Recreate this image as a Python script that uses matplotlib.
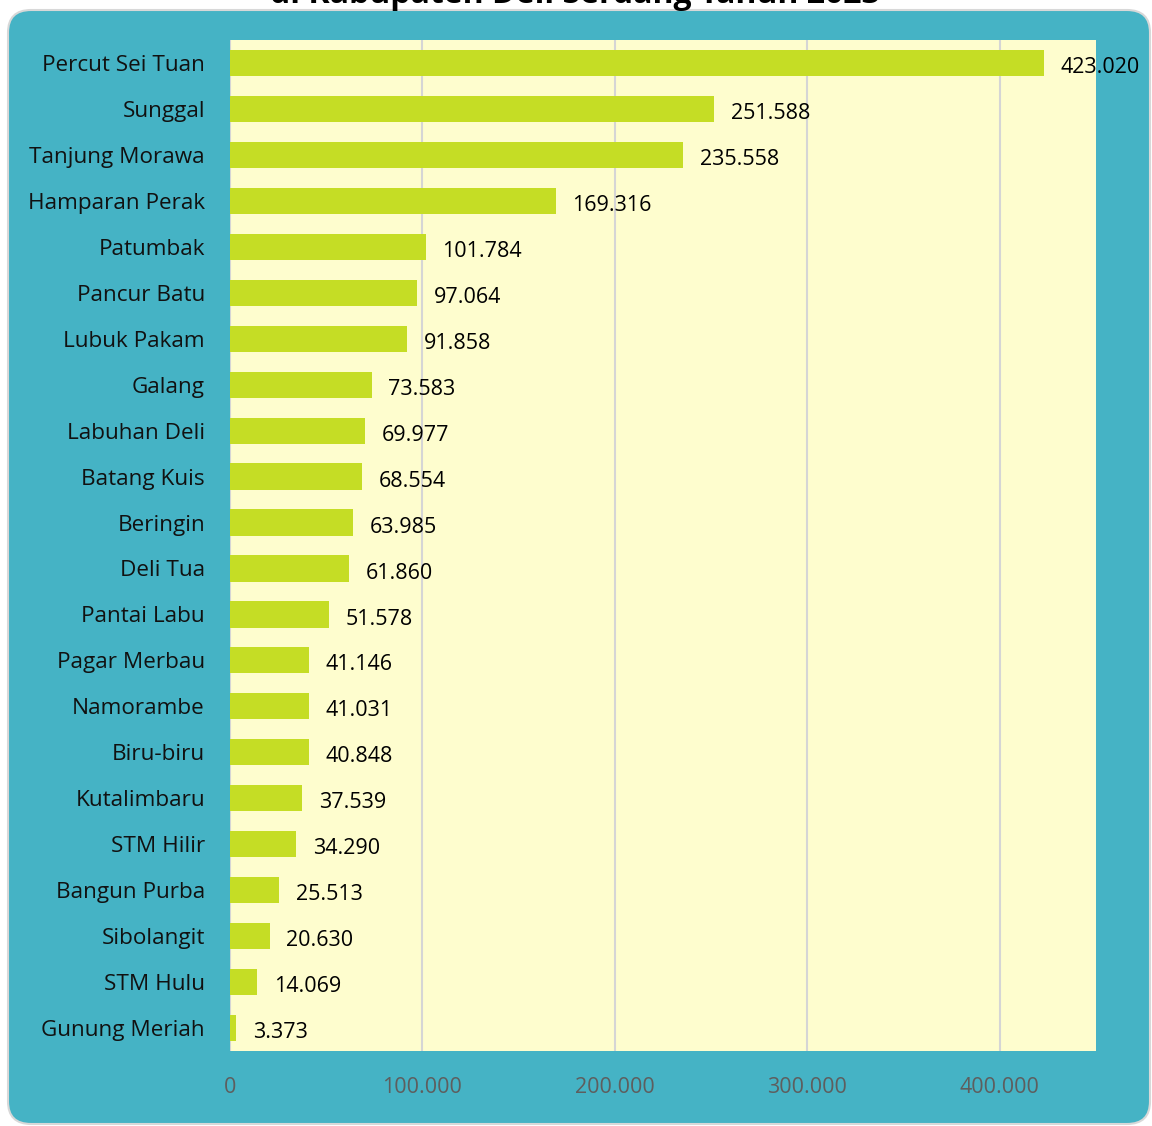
import matplotlib
matplotlib.use("Agg")
import matplotlib.pyplot as plt
from matplotlib.patches import FancyBboxPatch

categories = ["Percut Sei Tuan", "Sunggal", "Tanjung Morawa", "Hamparan Perak", "Patumbak",
              "Pancur Batu", "Lubuk Pakam", "Galang", "Labuhan Deli", "Batang Kuis",
              "Beringin", "Deli Tua", "Pantai Labu", "Pagar Merbau", "Namorambe",
              "Biru-biru", "Kutalimbaru", "STM Hilir", "Bangun Purba", "Sibolangit",
              "STM Hulu", "Gunung Meriah"]
values = [423020, 251588, 235558, 169316, 101784, 97064, 91858, 73583, 69977, 68554,
          63985, 61860, 51578, 41146, 41031, 40848, 37539, 34290, 25513, 20630,
          14069, 3373]
xticks = [0, 100000, 200000, 300000, 400000]
title = "di Kabupaten Deli Serdang Tahun 2023"

def fmt(v):
    return f"{v:,}".replace(",", ".")

plt.rcParams['font.family'] = ['Open Sans', 'DejaVu Sans']

W, H = 1152, 1126
fig = plt.figure(figsize=(W/100, H/100), dpi=100)
fig.patch.set_facecolor("white")

box = FancyBboxPatch((8/W, 2/H), (1150-8)/W, (H-10-2)/H,
                     boxstyle="round,pad=0,rounding_size=0.02",
                     transform=fig.transFigure, facecolor="#45B3C5",
                     edgecolor="#D8D8D8", linewidth=1.5, zorder=-5)
fig.patches.append(box)

fig.text(575/W, 1 + 6/H, title, ha="center", va="center", fontsize=23,
         fontweight="bold", color="black")

ax = fig.add_axes([230/W, 1 - 1051/H, (1096-230)/W, (1051-40)/H])
ax.set_zorder(1)
ax.set_facecolor("#FEFDCE")
y = list(range(len(categories)))
ax.barh(y, values, height=0.57, color="#C5DD25", zorder=3)
ax.set_ylim(len(categories) - 0.5, -0.5)
ax.set_xlim(0, 450000)
ax.set_yticks(y)
ax.set_yticklabels(categories, fontsize=16.2, color="#111111")
ax.set_xticks(xticks)
ax.set_xticklabels([fmt(t) for t in xticks], fontsize=15.5, color="#5E5E5E")
ax.tick_params(axis="both", length=0)
ax.tick_params(axis="y", pad=18)
ax.tick_params(axis="x", pad=19)
ax.grid(axis="x", color="#D5D5D5", linewidth=1.5, zorder=1)
for s in ax.spines.values():
    s.set_visible(False)

for yi, v in zip(y, values):
    ax.annotate(fmt(v), (v, yi), xytext=(12, -1.5), textcoords="offset points",
                ha="left", va="center_baseline", fontsize=15.5, color="black",
                annotation_clip=False, zorder=4)

fig.savefig("out.png", dpi=100)
